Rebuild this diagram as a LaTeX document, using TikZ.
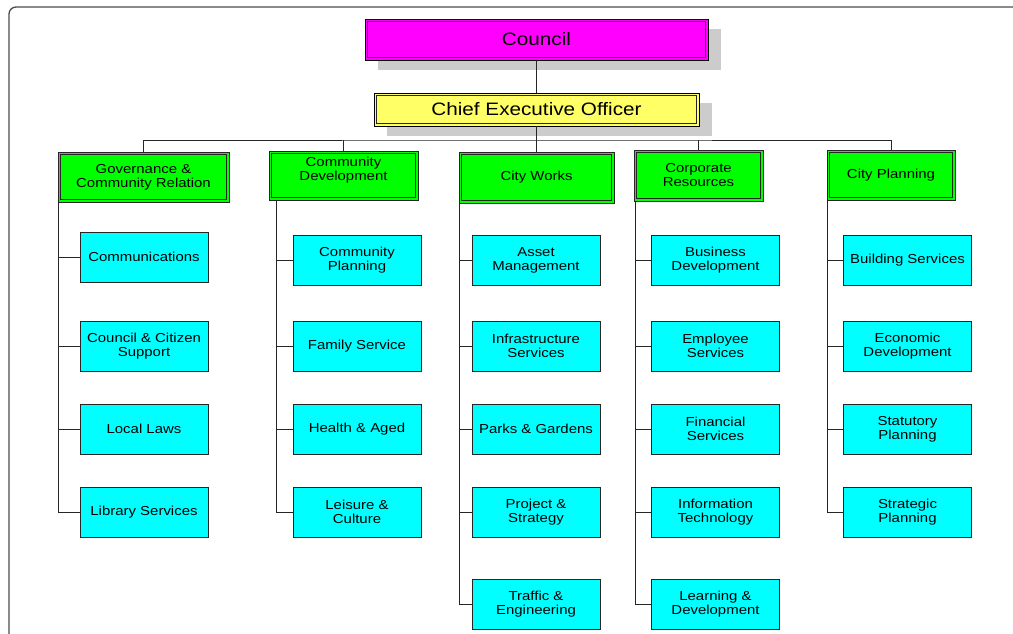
\documentclass[tikz,border=0pt]{standalone}
\usepackage{fontspec}
\setmainfont{Liberation Sans}[FakeStretch=1.15]
\usetikzlibrary{
  positioning,
  shadows
}

\definecolor{councilpink}{RGB}{255,0,255}
\definecolor{ceoyellow}{RGB}{255,255,102}
\definecolor{deptgreen}{RGB}{0,255,0}
\definecolor{unitcyan}{RGB}{0,255,255}
\definecolor{shadowgray}{RGB}{204,204,204}

\tikzset{
  innerframe/.style={path picture={
    \draw[black!85, line width=0.7pt]
      ([shift={(2.2pt,-2.2pt)}]path picture bounding box.north west) rectangle
      ([shift={(-2.2pt,2.2pt)}]path picture bounding box.south east);}},
  topbox/.style={draw=black, line width=0.8pt, innerframe,
    inner sep=0pt, align=center, font=\fontsize{18}{20}\selectfont,
    drop shadow={shadow xshift=13pt, shadow yshift=-10pt, fill=shadowgray, opacity=1}},
  deptbox/.style={draw=black!85, line width=0.8pt, innerframe,
    fill=deptgreen, inner sep=0pt, align=center, font=\fontsize{13}{14}\selectfont},
  unitbox/.style={draw=black!85, line width=0.8pt, fill=unitcyan, inner sep=0pt,
    minimum width=128pt, minimum height=50pt, align=center,
    font=\fontsize{13}{14}\selectfont},
  link/.style={draw=black!85, line width=0.8pt}
}

\begin{document}
\begin{tikzpicture}[x=1pt, y=-1pt]
\useasboundingbox (0,0) rectangle (1013,634);

% outer frame
\draw[black!70, line width=1.3pt, rounded corners=7pt] (9,7) rectangle (1040,660);

% -------------------------
% Nodes
% -------------------------
\node[topbox, fill=councilpink, minimum width=343pt, minimum height=41pt]
  (council) at (536.5,39.5) {Council};
\node[topbox, fill=ceoyellow, minimum width=325pt, minimum height=33pt]
  (ceo) at (536.5,109.5) {Chief Executive Officer};

% Departments
\node[deptbox, minimum width=171pt, minimum height=50pt] (gov) at (143.5,177)
  {Governance \&\\Community Relation};
\node[deptbox, minimum width=149pt, minimum height=49pt] (cd)  at (343.5,175.5)
  {Community\\Development\\~};
\node[deptbox, minimum width=155pt, minimum height=51pt] (cw)  at (536.5,177.5)
  {City Works};
\node[deptbox, minimum width=129pt, minimum height=51pt] (cr)  at (698.5,175.5)
  {Corporate\\Resources};
\node[deptbox, minimum width=128pt, minimum height=50pt] (cp)  at (891,175)
  {City Planning};

% Governance & Community Relation
\node[unitbox] (gov1) at (144,257) {Communications};
\node[unitbox] (gov2) at (144,346) {Council \& Citizen\\Support};
\node[unitbox] (gov3) at (144,429) {Local Laws};
\node[unitbox] (gov4) at (144,512) {Library Services};

% Community Development
\node[unitbox] (cd1) at (357,260) {Community\\Planning};
\node[unitbox] (cd2) at (357,346) {Family Service};
\node[unitbox] (cd3) at (357,429) {Health \& Aged};
\node[unitbox] (cd4) at (357,512) {Leisure \&\\Culture};

% City Works
\node[unitbox] (cw1) at (536,260) {Asset\\Management};
\node[unitbox] (cw2) at (536,346) {Infrastructure\\Services};
\node[unitbox] (cw3) at (536,429) {Parks \& Gardens};
\node[unitbox] (cw4) at (536,512) {Project \&\\Strategy};
\node[unitbox] (cw5) at (536,604) {Traffic \&\\Engineering};

% Corporate Resources
\node[unitbox] (cr1) at (715.5,260) {Business\\Development};
\node[unitbox] (cr2) at (715.5,346) {Employee\\Services};
\node[unitbox] (cr3) at (715.5,429) {Financial\\Services};
\node[unitbox] (cr4) at (715.5,512) {Information\\Technology};
\node[unitbox] (cr5) at (715.5,604) {Learning \&\\Development};

% City Planning
\node[unitbox] (cp1) at (907.5,260) {Building Services};
\node[unitbox] (cp2) at (907.5,346) {Economic\\Development};
\node[unitbox] (cp3) at (907.5,429) {Statutory\\Planning};
\node[unitbox] (cp4) at (907.5,512) {Strategic\\Planning};

% -------------------------
% Edges
% -------------------------
\coordinate (bus) at (536.5,140);

\path[link] (council) edge (ceo);
\path[link] (ceo) edge (bus);
\draw[link] (gov.north) |- (bus) -| (cp.north);
\draw[link] (cd.north) -- (cd.north |- bus);
\draw[link] (cw.north) -- (cw.north |- bus);
\draw[link] (cr.north) -- (cr.north |- bus);

% Governance & Community Relation
\draw[link] ([xshift=1pt]gov.south west) |- (gov1.west);
\draw[link] ([xshift=1pt]gov.south west) |- (gov2.west);
\draw[link] ([xshift=1pt]gov.south west) |- (gov3.west);
\draw[link] ([xshift=1pt]gov.south west) |- (gov4.west);

% Community Development
\draw[link] ([xshift=8pt]cd.south west) |- (cd1.west);
\draw[link] ([xshift=8pt]cd.south west) |- (cd2.west);
\draw[link] ([xshift=8pt]cd.south west) |- (cd3.west);
\draw[link] ([xshift=8pt]cd.south west) |- (cd4.west);

% City Works
\draw[link] ([xshift=1pt]cw.south west) |- (cw1.west);
\draw[link] ([xshift=1pt]cw.south west) |- (cw2.west);
\draw[link] ([xshift=1pt]cw.south west) |- (cw3.west);
\draw[link] ([xshift=1pt]cw.south west) |- (cw4.west);
\draw[link] ([xshift=1pt]cw.south west) |- (cw5.west);

% Corporate Resources
\draw[link] ([xshift=2pt]cr.south west) |- (cr1.west);
\draw[link] ([xshift=2pt]cr.south west) |- (cr2.west);
\draw[link] ([xshift=2pt]cr.south west) |- (cr3.west);
\draw[link] ([xshift=2pt]cr.south west) |- (cr4.west);
\draw[link] ([xshift=2pt]cr.south west) |- (cr5.west);

% City Planning
\draw[link] ([xshift=1pt]cp.south west) |- (cp1.west);
\draw[link] ([xshift=1pt]cp.south west) |- (cp2.west);
\draw[link] ([xshift=1pt]cp.south west) |- (cp3.west);
\draw[link] ([xshift=1pt]cp.south west) |- (cp4.west);

\end{tikzpicture}
\end{document}
